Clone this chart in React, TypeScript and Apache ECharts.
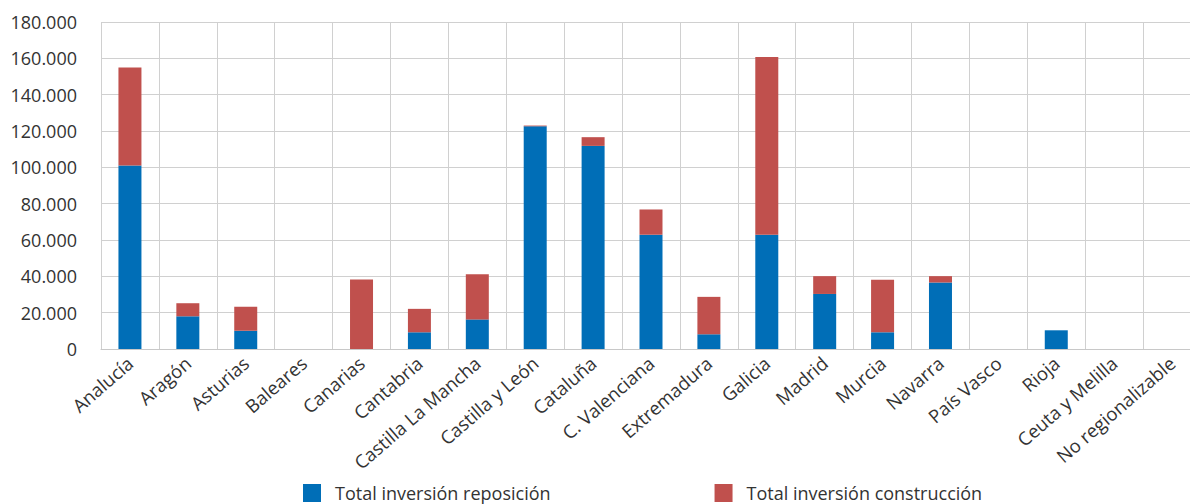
import React, { useEffect, useRef } from "react";
import * as echarts from "echarts";

const categories = [
  "Analucía", "Aragón", "Asturias", "Baleares", "Canarias", "Cantabria",
  "Castilla La Mancha", "Castilla y León", "Cataluña", "C. Valenciana",
  "Extremadura", "Galicia", "Madrid", "Murcia", "Navarra", "País Vasco",
  "Rioja", "Ceuta y Melilla", "No regionalizable",
];
const reposicion = [
  101000, 18000, 10100, 0, 0, 9200, 16300, 122600, 111800, 62900,
  8100, 62900, 30300, 9200, 36600, 0, 10300, 0, 0,
];
const construccion = [
  54000, 7200, 13200, 0, 38300, 12900, 24900, 400, 4800, 13900,
  20600, 97800, 9800, 28900, 3500, 0, 0, 0, 0,
];
const seriesNames = ["Total inversión reposición", "Total inversión construcción"];
const colors = ["#006EB7", "#C0504D"];

const FONT = "Open Sans";

export default function App() {
  const ref = useRef<HTMLDivElement>(null);
  useEffect(() => {
    if (!ref.current) return;
    const chart = echarts.init(ref.current, undefined, { renderer: "svg" });
    chart.setOption({
      animation: false,
      textStyle: { fontFamily: FONT },
      grid: { left: 101, right: 0, top: 22, bottom: 155, containLabel: false },
      legend: {
        left: 298,
        top: 479,
        itemWidth: 18,
        itemHeight: 18,
        itemGap: 164,
        icon: "rect",
        textStyle: { fontFamily: FONT, fontSize: 18, lineHeight: 18, color: "#333", padding: [0, 0, 0, 9] },
        data: seriesNames,
      },
      xAxis: {
        type: "category",
        data: categories,
        axisTick: { show: false },
        axisLine: { lineStyle: { color: "#c8c8c8" } },
        splitLine: { show: true, interval: 0, lineStyle: { color: "#d0d0d0", width: 1 } },
        axisLabel: { interval: 0, rotate: 41, fontSize: 18.5, color: "#333", fontFamily: FONT, margin: 11 },
      },
      yAxis: {
        type: "value",
        min: 0,
        max: 180000,
        interval: 20000,
        axisLine: { show: false },
        axisTick: { show: false },
        splitLine: { lineStyle: { color: "#d0d0d0", width: 1 } },
        axisLabel: {
          fontSize: 18,
          color: "#333",
          fontFamily: FONT,
          margin: 24,
          formatter: (v: number) => (v === 0 ? "0" : (v / 1000).toFixed(0) + ".000"),
        },
      },
      series: [
        {
          name: seriesNames[0],
          type: "bar",
          stack: "total",
          data: reposicion,
          barWidth: 23,
          itemStyle: { color: colors[0] },
        },
        {
          name: seriesNames[1],
          type: "bar",
          stack: "total",
          data: construccion,
          barWidth: 23,
          itemStyle: { color: colors[1] },
        },
      ],
    });
    return () => chart.dispose();
  }, []);
  return (
    <div
      style={{ position: "absolute", left: 0, top: 0, width: 1190, height: 504, overflow: "hidden", background: "#fff" }}
    >
      <div ref={ref} style={{ width: 1201, height: 504 }} />
    </div>
  );
}
